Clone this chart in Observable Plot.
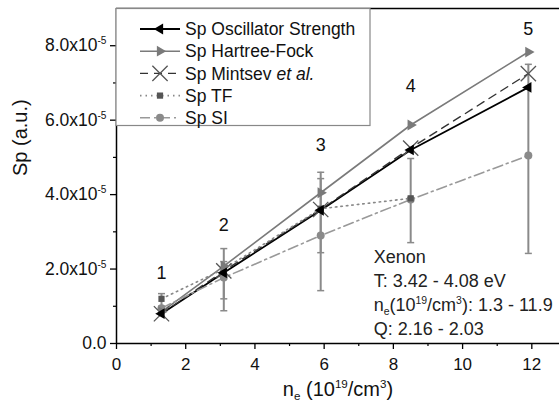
<!DOCTYPE html>
<html><head><meta charset="utf-8">
<script src="https://cdn.jsdelivr.net/npm/d3@7"></script>
<script src="https://cdn.jsdelivr.net/npm/@observablehq/plot@0.6"></script>
<style>
body{margin:0;background:#fff;}
#chart svg{font-family:"Liberation Sans",Arial,sans-serif;}
</style>
</head><body><div id="chart"></div>
<script>
// ---- data (Sp in units of 1e-5 a.u., n_e in 1e19/cm^3) ----
const ne = [1.3, 3.1, 5.9, 8.5, 11.9];
const spOsc = [0.80, 1.90, 3.58, 5.20, 6.88];
const spHF = [0.85, 2.08, 4.05, 5.87, 7.83];
const spMintsev = [0.80, 1.95, 3.60, 5.25, 7.25];
const spTF = [1.20, 2.00, 3.62, 3.90];
const spSI = [0.95, 1.77, 2.90, 3.87, 5.05];
// error bars: x, low, high
const errX = [1.3, 3.1, 3.1, 5.9, 5.9, 8.5, 11.9];
const errLow = [1.00, 0.88, 1.20, 1.42, 2.44, 2.71, 2.42];
const errHigh = [1.34, 2.55, 2.20, 4.60, 4.43, 4.97, 7.50];
// point numbers
const pointLabels = ["1", "2", "3", "4", "5"];
const labelY = [1.9, 3.17, 5.32, 6.9, 8.45];
const yTicks = [0, 2, 4, 6, 8];
const yMinor = [1, 3, 5, 7];
const xTicks = [0, 2, 4, 6, 8, 10, 12];
const xMinor = [1, 3, 5, 7, 9, 11];
const annLines = ["Xenon", "T: 3.42 - 4.08 eV", "n_{e}(10^{19}/cm^{3}): 1.3 - 11.9", "Q: 2.16 - 2.03"];
const U = 1e-5;

const series = [
  {name: "Sp Oscillator Strength", vals: spOsc, stroke: "#000", width: 1.8, dash: null, symbol: "triangle", rotate: -90, fill: "#000", mstroke: "none", r: 4},
  {name: "Sp Hartree-Fock", vals: spHF, stroke: "#7a7a7a", width: 1.6, dash: null, symbol: "triangle", rotate: 90, fill: "#7a7a7a", mstroke: "none", r: 4},
  {name: "Sp Mintsev", vals: spMintsev, stroke: "#333", width: 1.4, dash: "8,6", symbol: "times", rotate: 0, fill: "none", mstroke: "#555", r: 7},
  {name: "Sp TF", vals: spTF, stroke: "#888", width: 1.6, dash: "1.5,4", symbol: "square", rotate: 0, fill: "#555", mstroke: "none", r: 3.5},
  {name: "Sp SI", vals: spSI, stroke: "#999", width: 1.6, dash: "10,4,2,4", symbol: "circle", rotate: 0, fill: "#8a8a8a", mstroke: "none", r: 4}
];

const cap = {draw(ctx, size) { const w = Math.sqrt(size / Math.PI); ctx.moveTo(-w, 0); ctx.lineTo(w, 0); }};
const errRows = errX.map((x, i) => ({x, lo: errLow[i] * U, hi: errHigh[i] * U}));
const capRows = errRows.flatMap(d => [{x: d.x, y: d.lo}, {x: d.x, y: d.hi}]);

const marks = [
  Plot.ruleX(errRows, {x: "x", y1: "lo", y2: "hi", stroke: "#8a8a8a", strokeWidth: 2}),
  Plot.dot(capRows, {x: "x", y: "y", symbol: cap, r: 3.5, stroke: "#8a8a8a", strokeWidth: 1.5, fill: "none"})
];
for (const s of series) {
  const rows = s.vals.map((v, i) => ({x: ne[i], y: v * U}));
  marks.push(Plot.line(rows, {x: "x", y: "y", stroke: s.stroke, strokeWidth: s.width, strokeDasharray: s.dash}));
}
for (const s of [...series].reverse()) {
  const rows = s.vals.map((v, i) => ({x: ne[i], y: v * U}));
  marks.push(Plot.dot(rows, {x: "x", y: "y", symbol: s.symbol, rotate: s.rotate, r: s.r, fill: s.fill, stroke: s.mstroke === "none" ? undefined : s.mstroke, strokeWidth: 1.3}));
}
marks.push(
  Plot.text(pointLabels, {x: (d, i) => ne[i], y: (d, i) => labelY[i] * U, text: d => d, fontSize: 18, fill: "#111"}),
  Plot.text(annLines, {x: () => 7.43, y: (d, i) => (2.31 - i * 0.64) * U, text: d => d, textAnchor: "start", fontSize: 18, fill: "#222"}),
  Plot.ruleX([0], {stroke: "#000", strokeWidth: 1.5}),
  Plot.ruleY([0], {stroke: "#000", strokeWidth: 1.5}),
  Plot.ruleY([9 * U], {stroke: "#000", strokeWidth: 1.5}),
  Plot.axisY(yTicks.map(d => d * U), {tickSize: 6, tickPadding: 4, fontSize: 17.5, stroke: "#000", strokeWidth: 1.3, label: null,
    tickFormat: d => d === 0 ? "0.0" : `${(d / U).toFixed(1)}x10^{-5}`}),
  Plot.axisY(yMinor.map(d => d * U), {tickSize: 3, tickFormat: () => "", label: null, stroke: "#000", strokeWidth: 1.2}),
  Plot.axisX(xTicks, {tickSize: 6, tickPadding: 8, fontSize: 17, stroke: "#000", strokeWidth: 1.3, label: null, tickFormat: d => String(d)}),
  Plot.axisX(xMinor, {tickSize: 3, tickFormat: () => "", label: null, stroke: "#000", strokeWidth: 1.2}),
  Plot.text(["Sp (a.u.)"], {frameAnchor: "left", dx: -96, rotate: -90, fontSize: 20, fill: "#111"}),
  Plot.text(["n_{e} (10^{19}/cm^{3})"], {frameAnchor: "bottom", dy: 52, fontSize: 20, fill: "#111"})
);

const chart = Plot.plot({
  width: 559, height: 415,
  marginLeft: 116, marginRight: 0, marginTop: 8, marginBottom: 72,
  x: {domain: [0, 12.8]},
  y: {domain: [0, 9 * U]},
  style: {fontFamily: "Liberation Sans, Arial, sans-serif", fontSize: "17px", background: "#fff", color: "#111"},
  marks
});

// superscript / subscript rendering for text containing ^{..} or _{..}
const NS = "http://www.w3.org/2000/svg";
d3.select(chart).selectAll("text").each(function() {
  const txt = this.textContent;
  if (!/[\^_]\{/.test(txt)) return;
  while (this.firstChild) this.removeChild(this.firstChild);
  const re = /([\^_])\{([^}]*)\}/g;
  let last = 0, m;
  const add = (s, kind) => {
    if (!s) return;
    const t = document.createElementNS(NS, "tspan");
    t.textContent = s;
    if (kind) {
      t.setAttribute("font-size", "58%");
      t.setAttribute("baseline-shift", kind === "^" ? "70%" : "-35%");
    }
    this.appendChild(t);
  };
  while ((m = re.exec(txt))) { add(txt.slice(last, m.index)); add(m[2], m[1]); last = re.lastIndex; }
  add(txt.slice(last));
});

// legend inside the frame, top-left
const lg = d3.select(chart).append("g").attr("font-size", 17.5).attr("text-anchor", "start")
  .attr("font-family", "Liberation Sans, Arial, sans-serif");
lg.append("rect").attr("x", 116).attr("y", 8.5).attr("width", 254).attr("height", 117).attr("fill", "#fff").attr("stroke", "#888").attr("stroke-width", 1.2);
const symMap = {triangle: d3.symbolTriangle, times: d3.symbolTimes, square: d3.symbolSquare, circle: d3.symbolCircle};
series.forEach((s, i) => {
  const y = 29 + i * 22.2;
  lg.append("line").attr("x1", 140).attr("x2", 180).attr("y1", y).attr("y2", y)
    .attr("stroke", s.stroke).attr("stroke-width", s.width).attr("stroke-dasharray", s.dash);
  lg.append("path").attr("d", d3.symbol(symMap[s.symbol], Math.PI * s.r * s.r)())
    .attr("transform", `translate(160,${y}) rotate(${s.rotate})`)
    .attr("fill", s.fill).attr("stroke", s.mstroke).attr("stroke-width", 1.3);
  const t = lg.append("text").attr("x", 185).attr("y", y).attr("dy", "0.35em").attr("fill", "#111").attr("text-anchor", "start");
  if (s.name === "Sp Mintsev") {
    t.append("tspan").text("Sp Mintsev ");
    t.append("tspan").attr("font-style", "italic").text("et al.");
  } else t.text(s.name);
});

document.getElementById("chart").appendChild(chart);
</script>
</body></html>
